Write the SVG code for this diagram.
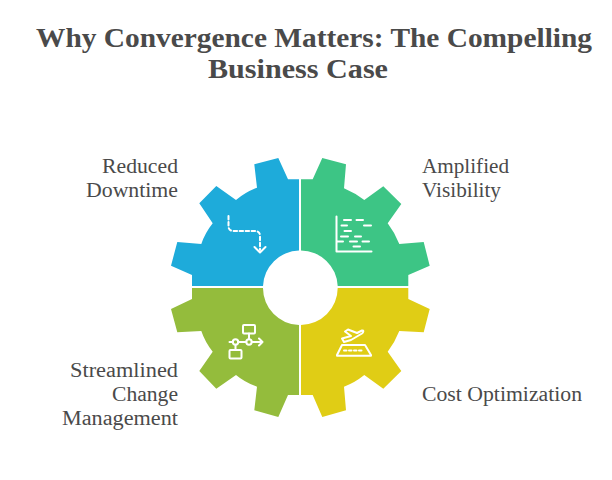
<svg xmlns="http://www.w3.org/2000/svg" width="612" height="480" viewBox="0 0 612 480">
<style>
text{font-family:"Liberation Serif","DejaVu Serif",serif;fill:#4a4a4a}
.t{font-size:28px;font-weight:700}
.l{font-size:20px}
.i{fill:none;stroke:#fff;stroke-width:2;stroke-linecap:round;stroke-linejoin:round}
</style>
<rect width="612" height="480" fill="#fff"/>
<g id="title">
<text class="t" x="36" y="47" textLength="556" lengthAdjust="spacingAndGlyphs">Why Convergence Matters: The Compelling</text>
<text class="t" x="208" y="78" textLength="180" lengthAdjust="spacingAndGlyphs">Business Case</text>
</g>
<g id="node-reduced-downtime">
<path fill="#1eabda" d="M299 179.300H288L278.300 158L254.300 164.300L257 187.700Q245 192.500 236 200L216.300 186L199.300 203.300L212.700 223.300Q205 233 201.300 244L177.300 242L171 265.700L192 275V286H263A37 37 0 0 1 299 250.500Z"/>
<path class="i" stroke-dasharray="3.500 2.500" d="M228.500 216V226Q228.500 231 233.500 231H255Q260 231 260 236V250"/>
<path class="i" d="M254.500 247L260 252.500L265.500 247"/>
<text class="l" x="102" y="173" textLength="76" lengthAdjust="spacingAndGlyphs">Reduced</text>
<text class="l" x="86" y="197" textLength="92" lengthAdjust="spacingAndGlyphs">Downtime</text>
</g>
<g id="node-amplified-visibility">
<path fill="#3dc585" d="M301 179.300H312.700L322.300 158L346 164.300L344 188.300Q355 193 364.300 200L383.300 186.300L401.300 204L387.700 223.300Q395 233 399.300 244L423.700 242L429.700 265.700L408.300 275V286H337.700A37 37 0 0 0 301 250.500Z"/>
<path class="i" d="M336.500 216.500V251.500H371.500"/>
<path class="i" stroke-width="1.600" d="M344 220H351M356.500 220H363M341.500 225.500H347M364 225.500H371M344.500 231H351M341 236.500H348M355 236.500H361M337 241.500H343M350 241.500H357M362.500 241.500H369M353.500 246.500H360"/>
<text class="l" x="422" y="173" textLength="87" lengthAdjust="spacingAndGlyphs">Amplified</text>
<text class="l" x="422" y="197" textLength="79" lengthAdjust="spacingAndGlyphs">Visibility</text>
</g>
<g id="node-streamlined-change">
<path fill="#94bc3c" d="M192 288V299L171 309L177.300 332.300L201.300 331Q205 342 212.700 351.700L199.300 371L216.300 388.700L236 375Q245 382.500 257 386.700L254.300 410.300L278.300 417L288 395H299V325A37 37 0 0 1 263 288Z"/>
<rect class="i" x="243" y="325" width="12" height="8.500" rx="1"/>
<rect class="i" x="229.500" y="350" width="12" height="8.500" rx="1"/>
<circle class="i" cx="235.500" cy="342" r="2.700"/>
<circle class="i" cx="249" cy="342" r="2.700"/>
<path class="i" d="M229.500 342H232.800M238.200 342H246.300M251.700 342H262.500M259 338.500L262.500 342L259 345.500M249 333.500V339.300M235.500 344.700V350"/>
<text class="l" x="70" y="377" textLength="108" lengthAdjust="spacingAndGlyphs">Streamlined</text>
<text class="l" x="112" y="401" textLength="66" lengthAdjust="spacingAndGlyphs">Change</text>
<text class="l" x="62" y="425" textLength="116" lengthAdjust="spacingAndGlyphs">Management</text>
</g>
<g id="node-cost-optimization">
<path fill="#e0cd15" d="M301 288V325A37 37 0 0 0 337.700 288H408.300V299L429.700 309L423.700 332.300L399.300 331Q395 342 387.700 351.700L401.300 371L383.300 388.700L364.300 375Q355 382.500 344 386.700L346 410.300L322.300 417L312.700 395H301Z"/>
<path class="i" d="M342 345H365L371 355V355.800H337V355Z"/>
<path class="i" stroke-width="1.600" stroke-dasharray="2.500 2.500" d="M344 350.500H364"/>
<path class="i" d="M344 342L342 338.500L351 336L345 331.500L348 329.500L357 333L362 330.500C364 330 363.500 332.500 362 333.500L351 340Z"/>
<text class="l" x="422" y="401" textLength="160" lengthAdjust="spacingAndGlyphs">Cost Optimization</text>
</g>
<g id="connectors"/>
</svg>
